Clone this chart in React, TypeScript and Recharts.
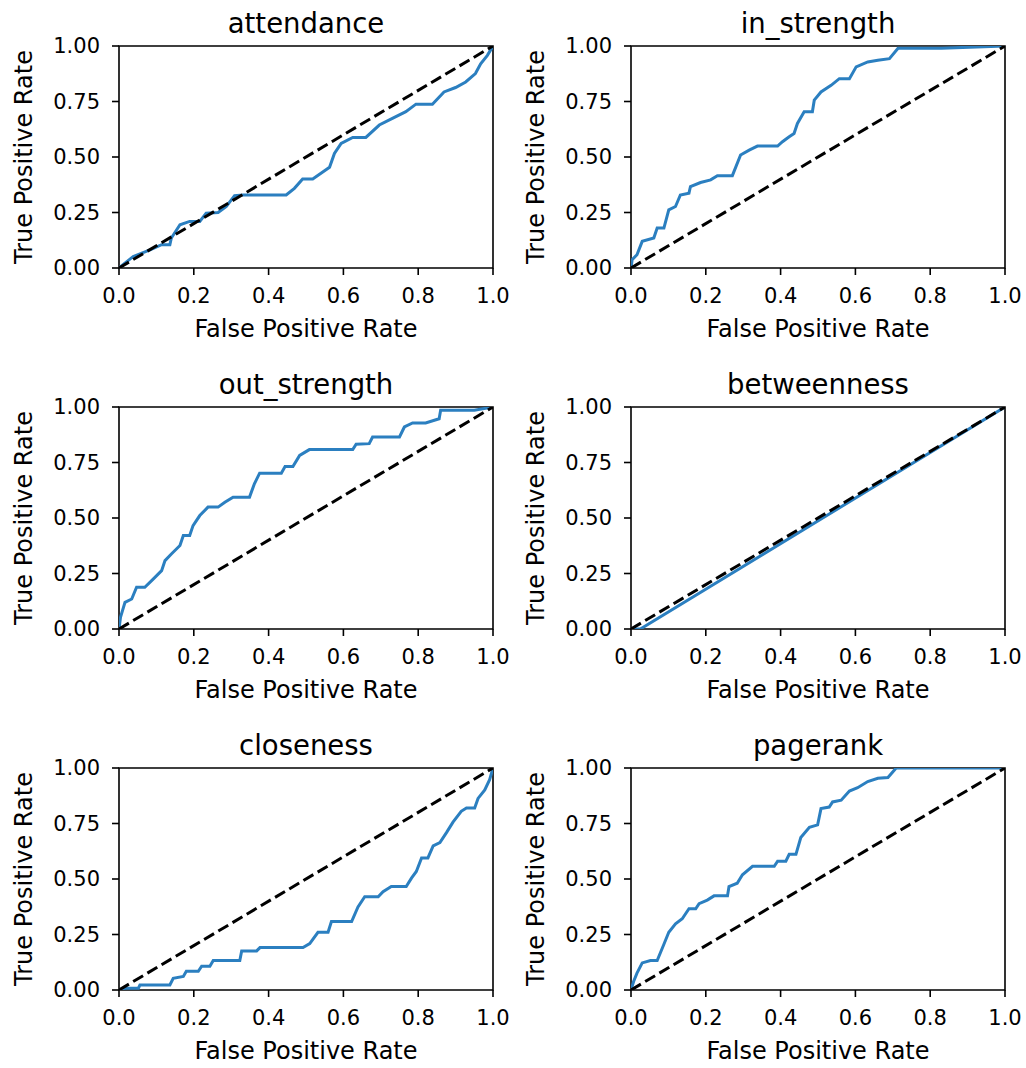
import { LineChart, Line, XAxis, YAxis, ReferenceArea, Label } from "recharts";

const titles = ["attendance", "in_strength", "out_strength", "betweenness", "closeness", "pagerank"];

const xTicks = [0, 0.2, 0.4, 0.6, 0.8, 1];
const yTicks = [0, 0.25, 0.5, 0.75, 1];

const chanceFpr = [0, 1];
const chanceTpr = [0, 1];

const attendanceFpr = [0, 0.038, 0.083, 0.114, 0.136, 0.14, 0.163, 0.189, 0.216, 0.233, 0.265, 0.287, 0.309, 0.332, 0.447, 0.469, 0.491, 0.518, 0.563, 0.576, 0.594, 0.625, 0.66, 0.696, 0.731, 0.767, 0.794, 0.838, 0.869, 0.9, 0.927, 0.953, 0.967, 0.985, 1];
const attendanceTpr = [0, 0.052, 0.082, 0.105, 0.105, 0.135, 0.195, 0.21, 0.21, 0.247, 0.25, 0.277, 0.326, 0.329, 0.329, 0.359, 0.401, 0.401, 0.454, 0.516, 0.561, 0.588, 0.588, 0.644, 0.674, 0.704, 0.738, 0.738, 0.793, 0.813, 0.838, 0.876, 0.92, 0.958, 1];

const inStrengthFpr = [0, 0.003, 0.016, 0.03, 0.061, 0.07, 0.088, 0.101, 0.119, 0.132, 0.155, 0.159, 0.186, 0.213, 0.231, 0.271, 0.293, 0.316, 0.338, 0.392, 0.405, 0.423, 0.436, 0.445, 0.463, 0.485, 0.49, 0.508, 0.535, 0.557, 0.584, 0.602, 0.633, 0.66, 0.691, 0.714, 0.83, 1];
const inStrengthTpr = [0, 0.037, 0.06, 0.12, 0.135, 0.18, 0.18, 0.262, 0.277, 0.329, 0.337, 0.367, 0.385, 0.397, 0.416, 0.416, 0.509, 0.531, 0.549, 0.549, 0.569, 0.591, 0.606, 0.651, 0.704, 0.704, 0.756, 0.793, 0.823, 0.853, 0.853, 0.906, 0.928, 0.936, 0.943, 0.99, 0.99, 1];

const outStrengthFpr = [0, 0.004, 0.016, 0.034, 0.047, 0.069, 0.092, 0.114, 0.123, 0.14, 0.163, 0.172, 0.189, 0.198, 0.216, 0.238, 0.265, 0.283, 0.305, 0.349, 0.362, 0.376, 0.434, 0.444, 0.465, 0.483, 0.509, 0.625, 0.634, 0.669, 0.678, 0.75, 0.763, 0.785, 0.82, 0.856, 0.86, 0.95, 1];
const outStrengthTpr = [0, 0.053, 0.12, 0.135, 0.188, 0.188, 0.226, 0.263, 0.308, 0.338, 0.376, 0.421, 0.421, 0.466, 0.511, 0.549, 0.549, 0.571, 0.594, 0.594, 0.654, 0.702, 0.702, 0.732, 0.732, 0.782, 0.808, 0.808, 0.832, 0.835, 0.865, 0.865, 0.91, 0.928, 0.928, 0.947, 0.985, 0.985, 1];

const betweennessFpr = [0, 0.025, 1];
const betweennessTpr = [0, 0, 1];

const closenessFpr = [0, 0.016, 0.052, 0.056, 0.136, 0.145, 0.172, 0.18, 0.212, 0.221, 0.243, 0.252, 0.323, 0.328, 0.368, 0.377, 0.492, 0.51, 0.532, 0.559, 0.568, 0.622, 0.639, 0.657, 0.693, 0.706, 0.728, 0.768, 0.782, 0.795, 0.809, 0.826, 0.84, 0.858, 0.876, 0.893, 0.915, 0.929, 0.951, 0.96, 0.978, 0.991, 1];
const closenessTpr = [0, 0.008, 0.008, 0.023, 0.023, 0.053, 0.061, 0.084, 0.084, 0.107, 0.107, 0.133, 0.133, 0.176, 0.176, 0.191, 0.191, 0.209, 0.26, 0.26, 0.308, 0.308, 0.374, 0.42, 0.42, 0.443, 0.466, 0.466, 0.504, 0.534, 0.595, 0.595, 0.649, 0.664, 0.71, 0.756, 0.805, 0.82, 0.82, 0.863, 0.901, 0.947, 1];

const pagerankFpr = [0, 0.007, 0.016, 0.03, 0.052, 0.07, 0.088, 0.101, 0.119, 0.137, 0.155, 0.173, 0.182, 0.204, 0.222, 0.258, 0.262, 0.284, 0.298, 0.325, 0.383, 0.392, 0.414, 0.423, 0.441, 0.454, 0.477, 0.499, 0.508, 0.53, 0.539, 0.562, 0.584, 0.606, 0.633, 0.66, 0.687, 0.709, 0.83, 1];
const pagerankTpr = [0, 0.038, 0.076, 0.122, 0.133, 0.133, 0.206, 0.26, 0.298, 0.321, 0.366, 0.366, 0.389, 0.405, 0.424, 0.424, 0.466, 0.481, 0.519, 0.557, 0.557, 0.58, 0.58, 0.611, 0.611, 0.687, 0.733, 0.744, 0.817, 0.824, 0.847, 0.855, 0.896, 0.911, 0.939, 0.954, 0.957, 1, 1, 1];

const panelFpr = [attendanceFpr, inStrengthFpr, outStrengthFpr, betweennessFpr, closenessFpr, pagerankFpr];
const panelTpr = [attendanceTpr, inStrengthTpr, outStrengthTpr, betweennessTpr, closenessTpr, pagerankTpr];

const PLOT_W = 374;
const PLOT_H = 222;
const Y_AXIS_W = 119;
const TOP = 46;
const X_AXIS_H = 80;
const RIGHT = 20;

const tickStyle = { fontSize: 21, fill: "#000", fontFamily: "DejaVu Sans" };
const tickLine = { stroke: "#000", strokeWidth: 1.6 };

function RocPanel({ title, fpr, tpr, left, top }: { title: string; fpr: number[]; tpr: number[]; left: number; top: number }) {
  const roc = fpr.map((x, i) => ({ x, y: tpr[i] }));
  const chance = chanceFpr.map((x, i) => ({ x, y: chanceTpr[i] }));
  return (
    <div style={{ position: "absolute", left, top }}>
      <LineChart
        width={Y_AXIS_W + PLOT_W + RIGHT}
        height={TOP + PLOT_H + X_AXIS_H}
        margin={{ top: TOP, right: RIGHT, left: 0, bottom: 0 }}
      >
        <XAxis
          dataKey="x"
          type="number"
          domain={[0, 1]}
          ticks={xTicks}
          allowDataOverflow
          height={X_AXIS_H}
          axisLine={false}
          tickLine={tickLine}
          tickSize={7}
          tickMargin={13}
          tick={tickStyle}
          tickFormatter={(v) => Number(v).toFixed(1)}
        >
          <Label
            content={({ viewBox }: any) => (
              <text x={viewBox.x + viewBox.width / 2} y={viewBox.y + 69} textAnchor="middle" fontSize={24} fill="#000">
                False Positive Rate
              </text>
            )}
          />
        </XAxis>
        <YAxis
          type="number"
          domain={[0, 1]}
          ticks={yTicks}
          allowDataOverflow
          width={Y_AXIS_W}
          axisLine={false}
          tickLine={tickLine}
          tickSize={7}
          tickMargin={12}
          tick={tickStyle}
          tickFormatter={(v) => Number(v).toFixed(2)}
        >
          <Label
            content={({ viewBox }: any) => {
              const cy = viewBox.y + viewBox.height / 2;
              return (
                <text x={32} y={cy} transform={`rotate(-90, 32, ${cy})`} textAnchor="middle" fontSize={24} fill="#000">
                  True Positive Rate
                </text>
              );
            }}
          />
        </YAxis>
        <Line data={roc} dataKey="y" type="linear" stroke="#2b7fc0" strokeWidth={3} dot={false} isAnimationActive={false} />
        <Line data={chance} dataKey="y" type="linear" stroke="#000" strokeWidth={3} strokeDasharray="11.5 5" dot={false} isAnimationActive={false} />
        <ReferenceArea
          x1={0}
          x2={1}
          y1={0}
          y2={1}
          fill="none"
          stroke="#000"
          strokeWidth={1.6}
          fillOpacity={0}
          label={({ viewBox }: any) => (
            <text x={viewBox.x + viewBox.width / 2} y={viewBox.y - 13} textAnchor="middle" fontSize={27.5} fill="#000">
              {title}
            </text>
          )}
        />
      </LineChart>
    </div>
  );
}

export default function App() {
  return (
    <div
      style={{
        position: "absolute",
        left: 0,
        top: 0,
        width: 1026,
        height: 1068,
        overflow: "hidden",
        background: "#fff",
        fontFamily: "DejaVu Sans",
      }}
    >
      {titles.map((t, i) => (
        <RocPanel
          key={t}
          title={t}
          fpr={panelFpr[i]}
          tpr={panelTpr[i]}
          left={(i % 2) * 512}
          top={Math.floor(i / 2) * 361}
        />
      ))}
    </div>
  );
}
